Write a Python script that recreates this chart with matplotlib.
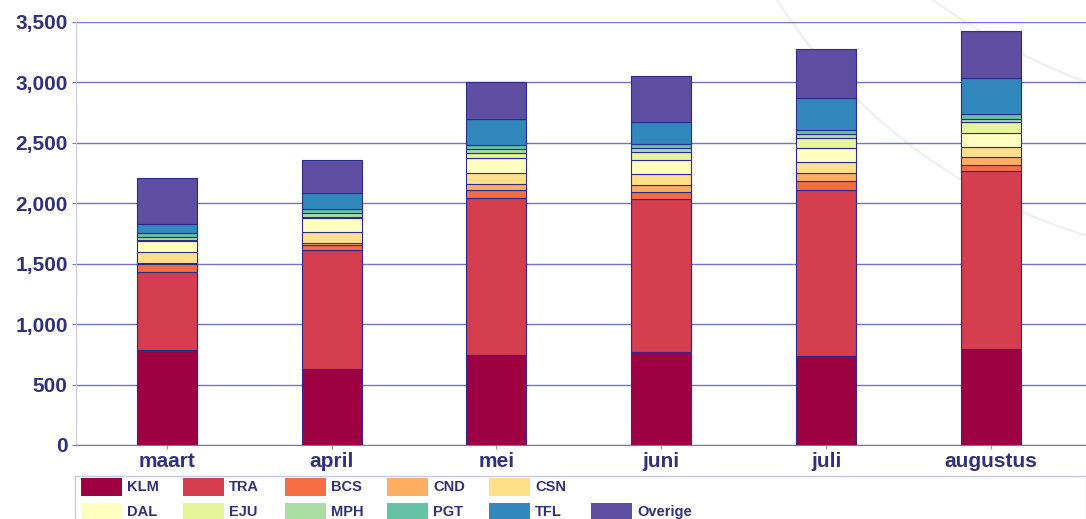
import numpy as np
import matplotlib
matplotlib.use('Agg')
import matplotlib.pyplot as plt
from matplotlib.patches import Rectangle
from matplotlib.lines import Line2D
from matplotlib.ticker import FuncFormatter

plt.rcParams['font.family'] = ['Liberation Sans', 'DejaVu Sans']
plt.rcParams['font.weight'] = 'bold'

months = ['maart', 'april', 'mei', 'juni', 'juli', 'augustus']
series = ['KLM', 'TRA', 'BCS', 'CND', 'CSN', 'DAL', 'EJU', 'MPH', 'PGT', 'TFL', 'Overige']

klm = [788, 628, 747, 769, 735, 797]
tra = [642, 987, 1295, 1265, 1378, 1471]
bcs = [68, 38, 69, 58, 75, 49]
cnd = [5, 17, 47, 58, 61, 64]
csn = [93, 93, 96, 91, 91, 83]
dal = [93, 114, 121, 115, 121, 121]
eju = [8, 13, 39, 66, 77, 85]
mph = [23, 28, 36, 34, 33, 30]
pgt = [35, 33, 30, 33, 36, 42]
tfl = [77, 132, 215, 187, 267, 292]
overige = [375, 276, 309, 378, 400, 389]

values = [klm, tra, bcs, cnd, csn, dal, eju, mph, pgt, tfl, overige]
colors = ['#9e0142', '#d53e4f', '#f46d43', '#fdae61', '#fee08b', '#ffffbf',
          '#e6f598', '#abdda4', '#66c2a5', '#3288bd', '#5e4fa2']

text_col = '#30317a'
grid_col = '#7373c9'
W, H = 1086, 519

fig = plt.figure(figsize=(W / 100, H / 100), dpi=100)

# faint decorative swooshes in the background
for cx, cy, r in [(1250, -300, 560), (1300, -500, 620)]:
    t = np.linspace(0, 2 * np.pi, 600)
    xs = cx + r * np.cos(t)
    ys = cy + r * np.sin(t)
    fig.add_artist(Line2D(xs / W, 1 - ys / H, transform=fig.transFigure,
                          color='#eceff2', lw=1.5, zorder=0))

ax = fig.add_axes([76 / W, (H - 445) / H, (W - 76) / W, (445 - 22) / H])
ax.set_facecolor('none')

x = np.arange(len(months))
bottom = np.zeros(len(months))
for name, vals, c in zip(series, values, colors):
    ax.bar(x, vals, 0.364, bottom=bottom, color=c, edgecolor='#2c2a8c',
           linewidth=0.8, label=name, zorder=3)
    bottom += np.array(vals)

ax.set_ylim(0, 3500)
ax.set_xlim(-0.55, 5.576)
ax.set_yticks(np.arange(0, 3501, 500))
ax.yaxis.set_major_formatter(FuncFormatter(lambda v, p: '{:,.0f}'.format(v)))
ax.set_xticks(x)
ax.set_xticklabels(months)
ax.grid(axis='y', color=grid_col, lw=1, zorder=1)
ax.tick_params(axis='y', length=3, color=grid_col, labelsize=15, labelcolor=text_col, pad=3)
ax.tick_params(axis='x', length=3, color='#999999', labelsize=15, labelcolor=text_col, pad=2)
for lab in ax.get_xticklabels() + ax.get_yticklabels():
    lab.set_fontweight('bold')

for s in ['top', 'right']:
    ax.spines[s].set_visible(False)
ax.spines['left'].set_color('#cacae8')
ax.spines['bottom'].set_color(grid_col)

# legend box below the chart
fig.add_artist(Rectangle((75 / W, -0.05), (W - 75) / W, (H - 476) / H + 0.05,
                         transform=fig.transFigure, facecolor='white',
                         edgecolor='#c8c8e6', lw=1, zorder=1))
for i, (name, c) in enumerate(zip(series, colors)):
    row = 0 if i < 5 else 1
    col = i if i < 5 else i - 5
    sx = 81 + 102 * col
    sy = 478 + 25 * row
    fig.add_artist(Rectangle((sx / W, 1 - (sy + 18) / H), 41 / W, 18 / H,
                             transform=fig.transFigure, facecolor=c,
                             edgecolor='none', zorder=2))
    fig.text((sx + 46) / W, 1 - (sy + 9) / H, name, fontsize=10.5, fontweight='bold',
             color=text_col, va='center', ha='left')

fig.savefig('out.png', dpi=100)
